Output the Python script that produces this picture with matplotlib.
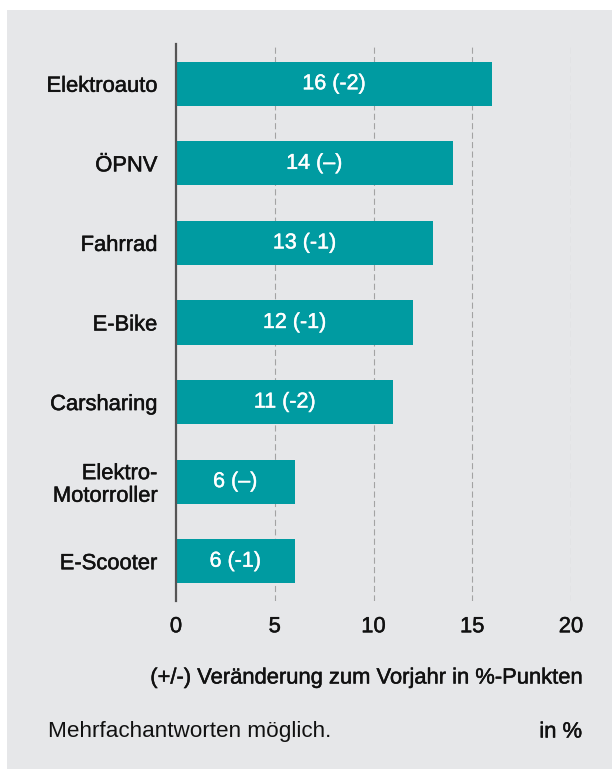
import matplotlib
matplotlib.use("Agg")
import matplotlib.pyplot as plt
from matplotlib.patches import Rectangle
import matplotlib.patheffects as pe

categories = ["Elektroauto", "ÖPNV", "Fahrrad", "E-Bike", "Carsharing",
              "Elektro-\nMotorroller", "E-Scooter"]
values = [16, 14, 13, 12, 11, 6, 6]
changes = ["-2", "–", "-1", "-1", "-2", "–", "-1"]
xticks = [0, 5, 10, 15, 20]
xlabel = "(+/-) Veränderung zum Vorjahr in %-Punkten"
footnote = "Mehrfachantworten möglich."
unit = "in %"

plt.rcParams['font.family'] = ['Liberation Sans', 'DejaVu Sans']

FS = 15.8
dark = "#111111"
med_dark = [pe.withStroke(linewidth=0.35, foreground=dark)]
med_white = [pe.withStroke(linewidth=0.3, foreground="white")]

W, H = 612, 769
fig = plt.figure(figsize=(W / 100, H / 100), dpi=100)
fig.patch.set_facecolor("white")
panel_color = "#e6e7e9"
fig.patches.append(Rectangle((7 / W, 0), 1 - 7 / W, 1 - 10 / H,
                             transform=fig.transFigure, facecolor=panel_color,
                             edgecolor="none", zorder=-10))

ax = fig.add_axes([176 / W, 1 - 601 / H, (571 - 176) / W, (601 - 44) / H])
ax.set_facecolor("none")
bar_color = "#009ba1"
pos = list(range(len(categories)))
ax.barh(pos, values, height=0.553, color=bar_color, zorder=2)
ax.set_ylim(len(categories) - 0.5, -0.5)
ax.set_xlim(0, 20)

for p, v, c in zip(pos, values, changes):
    ax.text(v / 2, p, f"{v} ({c})", ha="center", va="center", color="white",
            fontsize=FS - 0.3, zorder=3, path_effects=med_white)

for x in xticks[1:]:
    ax.axvline(x, color="#a3a3a3", linestyle=(0, (5.5, 3)), linewidth=0.8, zorder=1)

for s in ["top", "right", "bottom"]:
    ax.spines[s].set_visible(False)
ax.spines["left"].set_color("#555555")
ax.spines["left"].set_linewidth(1.6)
ax.spines["left"].set_zorder(4)

ax.set_yticks(pos)
ax.set_yticklabels(categories, fontsize=FS, color=dark, linespacing=1.1)
ax.tick_params(axis="y", length=0, pad=13.5)
ax.set_xticks(xticks)
ax.set_xticklabels([str(t) for t in xticks], fontsize=FS, color=dark)
ax.tick_params(axis="x", length=0, pad=11)
for lbl in ax.get_yticklabels() + ax.get_xticklabels():
    lbl.set_path_effects(med_dark)

fig.text(582 / W, 1 - 678 / H, xlabel, ha="right", va="center", fontsize=FS,
         color=dark, path_effects=med_dark)
fig.text(48 / W, 1 - 732 / H, footnote, ha="left", va="center", fontsize=FS + 0.4,
         color=dark)
fig.text(582 / W, 1 - 732 / H, unit, ha="right", va="center", fontsize=FS,
         color=dark, path_effects=med_dark)

fig.savefig("out.png", dpi=100)
